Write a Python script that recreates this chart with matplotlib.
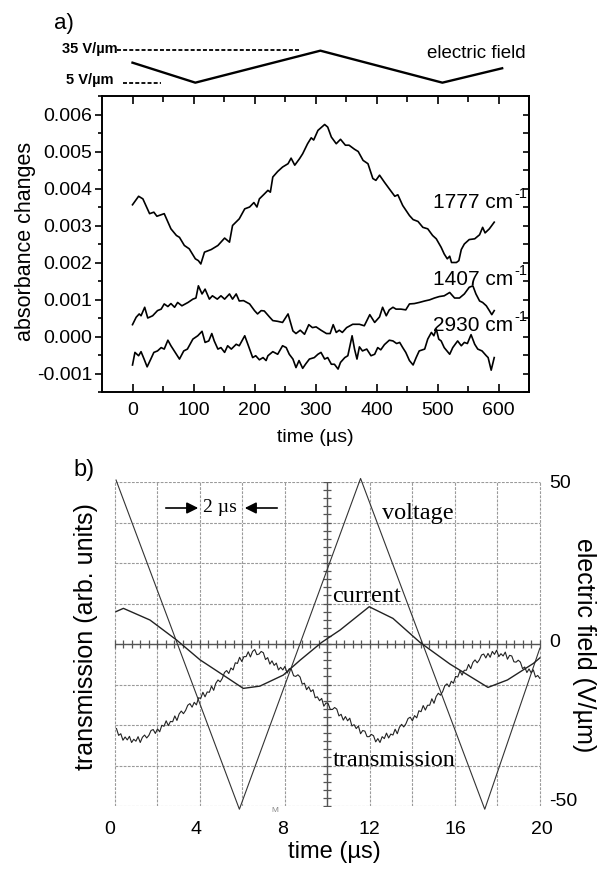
import numpy as np
import matplotlib
matplotlib.use('Agg')
import matplotlib.pyplot as plt
from matplotlib.ticker import MultipleLocator, FixedLocator

plt.rcParams['font.family'] = ['Liberation Sans', 'DejaVu Sans']
plt.rcParams['axes.unicode_minus'] = False

# ---------------- data: panel a ----------------
t_1777 = [0, 10, 17, 28, 35, 40, 52, 63, 72, 77, 85, 93, 103, 108, 112, 118, 129, 140, 151, 159,
          164, 175, 184, 192, 199, 204, 208, 216, 222, 226, 230, 238, 246, 255, 260, 266, 274, 279,
          287, 293, 297, 304, 315, 320, 326, 334, 341, 349, 355, 364, 370, 378, 386, 394, 399, 405,
          413, 421, 430, 435, 443, 454, 460, 468, 476, 484, 492, 498, 506, 511, 516, 520, 523, 531,
          535, 539, 544, 552, 561, 569, 574, 578, 585, 593]
a_1777 = [3.56, 3.79, 3.72, 3.32, 3.36, 3.25, 3.32, 2.91, 2.73, 2.68, 2.46, 2.37, 2.10, 2.05, 1.96,
          2.28, 2.35, 2.46, 2.66, 2.55, 3.00, 3.18, 3.45, 3.50, 3.62, 3.50, 3.72, 3.85, 3.95, 3.90,
          4.31, 4.46, 4.58, 4.67, 4.82, 4.63, 4.81, 4.94, 5.21, 5.37, 5.31, 5.57, 5.73, 5.66, 5.39,
          5.21, 5.33, 5.17, 5.17, 5.06, 5.00, 4.76, 4.67, 4.27, 4.22, 4.36, 4.17, 3.99, 3.79, 3.83,
          3.54, 3.27, 3.16, 3.11, 2.95, 2.91, 2.73, 2.64, 2.41, 2.23, 2.10, 2.17, 2.00, 2.00, 2.05,
          2.35, 2.50, 2.62, 2.64, 2.75, 2.95, 2.80, 2.91, 3.09]

t_1407 = [0, 6, 11, 14, 20, 25, 33, 41, 47, 52, 58, 63, 69, 74, 81, 91, 99, 104, 108, 114, 119,
          126, 131, 139, 145, 151, 159, 164, 170, 175, 182, 192, 200, 205, 211, 216, 225, 230, 238,
          246, 255, 263, 268, 275, 282, 289, 295, 301, 309, 318, 324, 329, 334, 339, 344, 351, 361,
          372, 380, 389, 397, 405, 410, 416, 421, 427, 432, 440, 448, 454, 462, 470, 479, 487, 495,
          503, 511, 520, 528, 536, 544, 552, 558, 563, 569, 574, 580, 585, 589, 593]
a_1407 = [0.32, 0.52, 0.61, 0.56, 0.79, 0.50, 0.56, 0.70, 0.74, 0.88, 0.81, 0.89, 0.79, 0.92, 0.83,
          0.92, 1.01, 1.04, 1.37, 1.15, 1.28, 1.01, 1.10, 1.01, 1.10, 1.01, 1.15, 1.01, 1.15, 0.96,
          0.97, 0.88, 0.70, 0.61, 0.70, 0.69, 0.52, 0.43, 0.41, 0.38, 0.61, 0.15, 0.08, 0.17, 0.06,
          0.32, 0.24, 0.26, 0.17, 0.08, 0.08, 0.32, 0.11, 0.17, 0.11, 0.24, 0.33, 0.33, 0.29, 0.59,
          0.38, 0.53, 0.79, 0.56, 0.72, 0.79, 0.74, 0.74, 0.72, 0.88, 0.89, 0.92, 0.96, 0.99, 1.04,
          1.08, 1.10, 1.19, 1.04, 1.04, 1.15, 1.33, 1.37, 1.15, 0.96, 0.92, 0.83, 0.70, 0.59, 0.70]

t_2930 = [0, 4, 10, 14, 19, 24, 30, 35, 41, 47, 52, 58, 63, 70, 77, 84, 90, 99, 107, 114, 119, 125,
          130, 134, 140, 145, 151, 156, 162, 170, 175, 184, 190, 197, 202, 208, 214, 219, 222, 230,
          238, 246, 252, 257, 263, 268, 273, 279, 284, 290, 298, 304, 309, 315, 320, 326, 331, 337,
          341, 348, 353, 360, 364, 368, 372, 377, 384, 391, 397, 402, 407, 413, 421, 427, 433, 438,
          443, 448, 454, 460, 465, 470, 479, 484, 490, 494, 498, 502, 506, 511, 520, 525, 533, 539,
          544, 549, 555, 561, 566, 573, 580, 583, 588, 593]
a_2930 = [-0.77, -0.43, -0.52, -0.41, -0.61, -0.82, -0.61, -0.43, -0.39, -0.30, -0.34, -0.10, -0.25,
          -0.43, -0.61, -0.39, -0.34, -0.07, 0.02, 0.14, -0.16, -0.12, 0.08, -0.12, -0.34, -0.30,
          -0.43, -0.25, -0.34, -0.21, -0.25, 0.02, -0.25, -0.57, -0.52, -0.63, -0.57, -0.65, -0.52,
          -0.41, -0.48, -0.25, -0.30, -0.48, -0.61, -0.84, -0.65, -0.86, -0.74, -0.61, -0.57, -0.48,
          -0.43, -0.61, -0.57, -0.75, -0.75, -0.88, -0.70, -0.57, -0.52, 0.02, -0.34, -0.61, -0.28,
          -0.39, -0.34, -0.52, -0.48, -0.30, -0.36, -0.22, -0.10, -0.12, -0.19, -0.16, -0.30, -0.43,
          -0.65, -0.77, -0.57, -0.39, -0.34, -0.07, 0.11, 0.02, 0.20, -0.07, -0.12, -0.30, -0.48,
          -0.30, -0.12, -0.25, -0.16, -0.19, 0.05, -0.21, -0.34, -0.39, -0.52, -0.57, -0.91, -0.57]

field_t = [0, 103, 308, 508, 606]
field_E = [23.75, 5, 35, 5, 18.5]

series_names = ['1777 cm', '1407 cm', '2930 cm']
series_label_y = [3.62e-3, 1.54e-3, 0.29e-3]

# ---------------- data: panel b ----------------
volt_t = [0.28, 5.99, 11.6, 17.35, 19.9]
volt_E = [50.6, -51, 51.1, -51, -1.3]

curr_t = [0.28, 0.62, 1.85, 3.09, 4.17, 5.4, 6.17, 6.94, 8.02, 8.8, 9.8, 10.65, 12.0, 13.1, 14.35,
          15.74, 17.5, 18.4, 19.6, 19.9]
curr_E = [10.0, 11.0, 7.4, 1.2, -4.9, -10.3, -13.7, -13.0, -9.6, -5.0, 0.5, 4.3, 11.5, 7.9, 0.5,
          -6.2, -13.4, -11.1, -6.0, -4.3]

# transmission trace, sampled every 0.1 us from 0.3 us to 19.9 us
trans_t = np.round(np.arange(0.3, 19.95, 0.1), 1)
trans_E = [-26.1, -28.2, -27.7, -29.7, -28.7, -29.6, -28.5, -30.4, -29.4, -30.0,
           -28.6, -30.4, -28.8, -28.1, -29.0, -28.2, -26.7, -26.4, -27.6, -26.2,
           -27.1, -25.1, -25.4, -23.7, -25.2, -23.9, -24.0, -22.2, -23.6, -21.6,
           -20.7, -21.5, -20.5, -18.9, -18.4, -19.5, -18.0, -18.8, -16.6, -16.8,
           -14.9, -16.3, -14.8, -14.9, -13.0, -14.3, -12.1, -11.1, -11.7, -10.6,
           -8.8, -8.2, -9.1, -7.4, -8.0, -5.8, -6.0, -4.1, -5.4, -3.9,
           -3.9, -2.4, -4.0, -2.3, -1.7, -3.3, -3.1, -2.3, -2.7, -4.8,
           -4.2, -6.2, -5.2, -6.6, -5.9, -8.0, -7.2, -8.0, -6.9, -9.0,
           -7.6, -7.9, -9.8, -10.0, -9.5, -10.2, -12.4, -12.1, -14.1, -13.2,
           -14.7, -14.1, -16.6, -16.3, -17.5, -16.8, -19.2, -18.2, -18.4, -20.2,
           -20.2, -19.6, -20.1, -22.2, -21.7, -23.5, -22.4, -23.7, -22.9, -25.3,
           -24.9, -26.1, -25.3, -27.7, -26.7, -26.9, -28.6, -28.6, -27.9, -28.3,
           -30.2, -29.2, -30.4, -28.6, -29.2, -27.5, -29.0, -27.8, -28.1, -26.3,
           -27.7, -25.7, -24.8, -25.6, -24.6, -23.0, -22.6, -23.7, -22.1, -22.8,
           -20.6, -20.9, -19.0, -20.4, -18.9, -18.9, -16.9, -18.3, -16.2, -15.2,
           -15.8, -14.7, -12.9, -12.3, -13.2, -11.5, -12.1, -10.0, -10.2, -8.3,
           -9.6, -8.1, -8.1, -6.3, -7.6, -5.7, -4.9, -5.8, -4.9, -3.4,
           -3.1, -4.3, -2.9, -4.1, -2.3, -3.2, -1.9, -3.9, -3.0, -3.7,
           -2.5, -4.7, -3.5, -3.7, -5.5, -5.6, -5.0, -5.6, -7.6, -7.1,
           -8.8, -7.7, -8.9, -8.0, -10.2, -9.7, -10.6]
assert len(trans_t) == len(trans_E)

b_xticks = [0, 4, 8, 12, 16, 20]
b_yticks = [-50, 0, 50]

# ---------------- figure ----------------
W, H = 602, 869
fig = plt.figure(figsize=(W / 100, H / 100), dpi=100)


def rect(l, t, r, b):
    return [l / W, 1 - b / H, (r - l) / W, (b - t) / H]


def ftext(x, y, s, **kw):
    fig.text(x / W, 1 - y / H, s, **kw)


# ---- panel a ----
ax = fig.add_axes(rect(102, 96, 529, 392))
for tt, aa in [(t_1777, a_1777), (t_1407, a_1407), (t_2930, a_2930)]:
    ax.plot(tt, np.array(aa) * 1e-3, color='black', lw=1.2)
ax.set_xlim(-50, 650)
ax.set_ylim(-0.0015, 0.0065)
for s in ax.spines.values():
    s.set_linewidth(1.4)
ax.xaxis.set_major_locator(FixedLocator(list(range(0, 601, 100))))
ax.xaxis.set_minor_locator(FixedLocator(list(range(50, 651, 100))))
ax.tick_params(axis='x', which='both', direction='in', top=True, bottom=True, labelsize=14, pad=7)
ax.tick_params(axis='x', which='major', length=6, width=1.2)
ax.tick_params(axis='x', which='minor', length=4, width=1.2)
ax.set_yticks(np.arange(-0.001, 0.00601, 0.001))
ax.yaxis.set_minor_locator(MultipleLocator(0.0005))
ax.yaxis.set_major_formatter(plt.FuncFormatter(lambda v, p: '%.3f' % v))
ax.tick_params(axis='y', which='both', direction='out', left=True, right=False, labelsize=14, pad=2)
ax.tick_params(axis='y', which='major', length=5, width=1.2)
ax.tick_params(axis='y', which='minor', length=3, width=1.2)
sec = ax.secondary_yaxis('right')
sec.yaxis.set_major_locator(MultipleLocator(0.0005))
sec.tick_params(axis='y', direction='in', length=4, width=1.2, labelright=False)
sec.spines['right'].set_linewidth(1.4)

for name, yv in zip(series_names, series_label_y):
    ax.text(492, yv, name, fontsize=15, va='center', ha='left')
    ax.annotate('-1', xy=(492, yv), xytext=(82, 9), textcoords='offset pixels',
                fontsize=10.5, va='center', ha='left')

ftext(26, 241, 'absorbance changes', fontsize=15.5, rotation=90, ha='center', va='center')
ftext(315, 438, 'time (µs)', fontsize=14, ha='center', va='center')
ftext(54, 23, 'a)', fontsize=16, ha='left', va='center')

# electric field sketch above panel a
axf = fig.add_axes(rect(102, 40, 529, 96))
axf.set_xlim(-50, 650)
axf.set_ylim(-7.5, 45)
axf.axis('off')
axf.plot(field_t, field_E, color='black', lw=1.7)
axf.plot([-25, 274], [36, 36], color='black', lw=1.3, ls=(0, (2.2, 1.2)))
axf.plot([-15, 47], [5, 5], color='black', lw=1.3, ls=(0, (2.2, 1.2)))
ftext(118, 49, '35 V/µm', fontsize=10.5, fontweight='bold', ha='right', va='center')
ftext(113, 80, '5 V/µm', fontsize=10.5, fontweight='bold', ha='right', va='center')
ftext(427, 54, 'electric field', fontsize=13.5, ha='left', va='center')

# ---- panel b ----
axb = fig.add_axes(rect(110, 482, 542, 806))
axb.set_xlim(0, 20)
axb.set_ylim(-50, 50)
for s in axb.spines.values():
    s.set_visible(False)
gx = np.linspace(0.23, 19.9, 11)
gy = np.linspace(-50, 50, 9)
grid_kw = dict(color='#9a9a9a', lw=0.8, ls=(0, (2.5, 1.2)))
axb.vlines(gx, -50, 50, **grid_kw)
axb.hlines(gy, gx[0], gx[-1], **grid_kw)
axb.vlines([gx[5]], -50, 50, color='#555555', lw=1.0)
axb.hlines([0], gx[0], gx[-1], color='#555555', lw=1.0)
axb.plot(np.linspace(gx[0], gx[-1], 51), np.zeros(51), ls='none', marker='|', ms=6, mew=0.9, color='#555555')
axb.plot(np.full(41, gx[5]), np.linspace(-50, 50, 41), ls='none', marker='_', ms=6, mew=0.9, color='#555555')

axb.plot(volt_t, volt_E, color='#333333', lw=0.8, clip_on=False)
axb.plot(curr_t, curr_E, color='#222222', lw=1.0)
axb.plot(trans_t, trans_E, color='#222222', lw=0.8)

axb.set_xticks(b_xticks)
axb.tick_params(axis='x', length=0, labelsize=14, pad=11)
axb.set_yticks([])
axr = axb.twinx()
axr.set_ylim(-51.9, 49.6)
axr.set_yticks(b_yticks)
for s in axr.spines.values():
    s.set_visible(False)
axr.tick_params(axis='y', length=0, labelsize=14, pad=5)

ftext(86, 637, 'transmission (arb. units)', fontsize=18, rotation=90, ha='center', va='center')
ftext(584, 645, 'electric field (V/µm)', fontsize=18, rotation=270, ha='center', va='center')
ftext(334, 852, 'time (µs)', fontsize=17, ha='center', va='center')
ftext(73, 470, 'b)', fontsize=17, ha='left', va='center')

serif = ['Liberation Serif', 'DejaVu Serif']
ftext(382, 514, 'voltage', fontsize=17.5, family=serif, ha='left', va='center')
ftext(332, 596, 'current', fontsize=17.5, family=serif, ha='left', va='center')
ftext(333, 760, 'transmission', fontsize=17.5, family=serif, ha='left', va='center')
ftext(220, 508, '2 µs', fontsize=14, family=serif, ha='center', va='center')
fig.add_artist(matplotlib.patches.FancyArrowPatch((163 / W, 1 - 508 / H), (201 / W, 1 - 508 / H),
               transform=fig.transFigure, arrowstyle='-|>', mutation_scale=17, color='black', lw=1.2))
fig.add_artist(matplotlib.patches.FancyArrowPatch((280 / W, 1 - 508 / H), (242 / W, 1 - 508 / H),
               transform=fig.transFigure, arrowstyle='-|>', mutation_scale=17, color='black', lw=1.2))
ftext(275, 811, 'M', fontsize=6, color='#888888', ha='center', va='center')

fig.savefig('out.png', dpi=100)
